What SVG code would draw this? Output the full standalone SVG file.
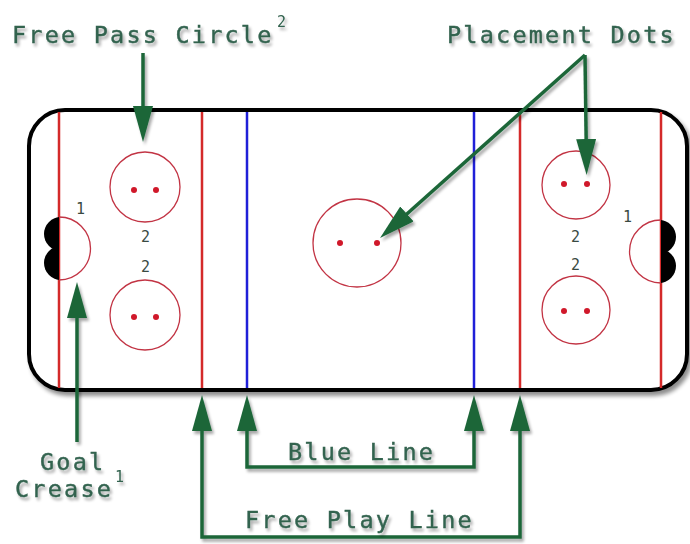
<svg xmlns="http://www.w3.org/2000/svg" width="690" height="544" viewBox="0 0 690 544">
<style>
.lbl{font-family:"DejaVu Sans Mono","Liberation Mono",monospace;font-size:23.5px;letter-spacing:2.2px;fill:#33634f;stroke:#33634f;stroke-width:0.4;}
.sup{font-family:"DejaVu Sans Mono","Liberation Mono",monospace;font-size:15px;fill:#33634f;}
.num{font-family:"DejaVu Sans Mono","Liberation Mono",monospace;font-size:15px;fill:#3a4a42;}
.red{stroke:#d42a2a;stroke-width:2.5;fill:none;}
.blue{stroke:#2020d8;stroke-width:2.5;fill:none;}
.circ{stroke:#c23444;stroke-width:1.3;fill:none;}
.dot{fill:#d0182a;}
.goal{fill:#000;}
.arr{stroke:#1b6639;stroke-width:3.5;fill:none;marker-end:url(#ah);}
.arr2{stroke:#1b6639;stroke-width:3.5;fill:none;marker-end:url(#ah);marker-start:url(#ahs);}
</style>
<defs>
<filter id="sh" x="-10%" y="-10%" width="130%" height="130%">
<feGaussianBlur in="SourceAlpha" stdDeviation="2"/>
<feOffset dx="3" dy="4" result="o"/>
<feComponentTransfer><feFuncA type="linear" slope="0.45"/></feComponentTransfer>
<feMerge><feMergeNode/><feMergeNode in="SourceGraphic"/></feMerge>
</filter>
<filter id="tsh" x="-10%" y="-30%" width="130%" height="180%">
<feGaussianBlur in="SourceAlpha" stdDeviation="1.8"/>
<feOffset dx="2" dy="3" result="o"/>
<feComponentTransfer><feFuncA type="linear" slope="0.35"/></feComponentTransfer>
<feMerge><feMergeNode/><feMergeNode in="SourceGraphic"/></feMerge>
</filter>
<clipPath id="clipL"><rect x="30" y="200" width="29" height="100"/></clipPath>
<clipPath id="clipR"><rect x="661" y="200" width="29" height="100"/></clipPath>
<marker id="ah" viewBox="0 0 36 20" refX="26" refY="10" markerWidth="36" markerHeight="20" markerUnits="userSpaceOnUse" orient="auto">
<path d="M0,0 L36,10 L0,20 z" fill="#1b6639"/>
</marker>
<marker id="ahs" viewBox="0 0 36 20" refX="26" refY="10" markerWidth="36" markerHeight="20" markerUnits="userSpaceOnUse" orient="auto-start-reverse">
<path d="M0,0 L36,10 L0,20 z" fill="#1b6639"/>
</marker>
</defs>
<rect width="690" height="544" fill="#fff"/>

<g id="rink">
<rect x="29" y="110" width="658" height="280" rx="36" ry="36" fill="#fff" stroke="#000" stroke-width="4" filter="url(#sh)"/>
<line class="red" x1="59" y1="112" x2="59" y2="388"/>
<line class="red" x1="202" y1="112" x2="202" y2="388"/>
<line class="blue" x1="247" y1="112" x2="247" y2="388"/>
<line class="blue" x1="474" y1="112" x2="474" y2="388"/>
<line class="red" x1="520" y1="112" x2="520" y2="388"/>
<line class="red" x1="661" y1="112" x2="661" y2="388"/>
</g>

<g id="left-goal">
<g clip-path="url(#clipL)">
<circle class="goal" cx="61" cy="234" r="17"/>
<circle class="goal" cx="61" cy="263" r="17"/>
</g>
<path class="circ" d="M59,217 A31.5,31.5 0 0 1 59,280"/>
<text class="num" x="76" y="214">1</text>
</g>
<g id="right-goal">
<g clip-path="url(#clipR)">
<circle class="goal" cx="659" cy="237" r="17"/>
<circle class="goal" cx="659" cy="266" r="17"/>
</g>
<path class="circ" d="M661,220 A31.5,31.5 0 0 0 661,283"/>
<text class="num" x="623" y="222">1</text>
</g>

<g id="circle-left-top">
<circle class="circ" cx="145" cy="187" r="35"/>
<circle class="dot" cx="134" cy="190" r="3"/>
<circle class="dot" cx="156" cy="190" r="3"/>
</g>
<g id="circle-left-bottom">
<circle class="circ" cx="145" cy="315" r="35"/>
<circle class="dot" cx="134" cy="317" r="3"/>
<circle class="dot" cx="156" cy="317" r="3"/>
</g>
<g id="nums-left">
<text class="num" x="141" y="242">2</text>
<text class="num" x="141" y="272">2</text>
</g>
<g id="circle-center">
<circle class="circ" cx="357" cy="243" r="44"/>
<circle class="dot" cx="340" cy="243" r="3"/>
<circle class="dot" cx="377" cy="243" r="3"/>
</g>
<g id="circle-right-top">
<circle class="circ" cx="576" cy="185" r="34"/>
<circle class="dot" cx="564" cy="184" r="3"/>
<circle class="dot" cx="587" cy="184" r="3"/>
</g>
<g id="circle-right-bottom">
<circle class="circ" cx="576" cy="310" r="34"/>
<circle class="dot" cx="564" cy="311" r="3"/>
<circle class="dot" cx="587" cy="311" r="3"/>
</g>
<g id="nums-right">
<text class="num" x="571" y="242">2</text>
<text class="num" x="571" y="270">2</text>
</g>

<g id="connectors" filter="url(#tsh)">
<path class="arr" d="M143,53 V132"/>
<path class="arr" d="M585,55 L586.5,165"/>
<path class="arr" d="M585,55 L387.5,231.3"/>
<path class="arr" d="M77,442 V292"/>
<path class="arr2" d="M247,405 V467 H474 V405"/>
<path class="arr2" d="M202,405 V537 H520 V405"/>
</g>

<g id="label-free-pass" filter="url(#tsh)">
<text class="lbl" x="12" y="43">Free Pass Circle</text>
<text class="sup" x="277" y="27">2</text>
</g>
<g id="label-placement" filter="url(#tsh)">
<text class="lbl" x="447" y="43">Placement Dots</text>
</g>
<g id="label-goal" filter="url(#tsh)">
<text class="lbl" x="40" y="470">Goal</text>
<text class="lbl" x="15" y="497">Crease</text>
<text class="sup" x="115" y="482">1</text>
</g>
<g id="label-blue" filter="url(#tsh)">
<text class="lbl" x="288" y="460">Blue Line</text>
</g>
<g id="label-free-play" filter="url(#tsh)">
<text class="lbl" x="245" y="528">Free Play Line</text>
</g>
</svg>
